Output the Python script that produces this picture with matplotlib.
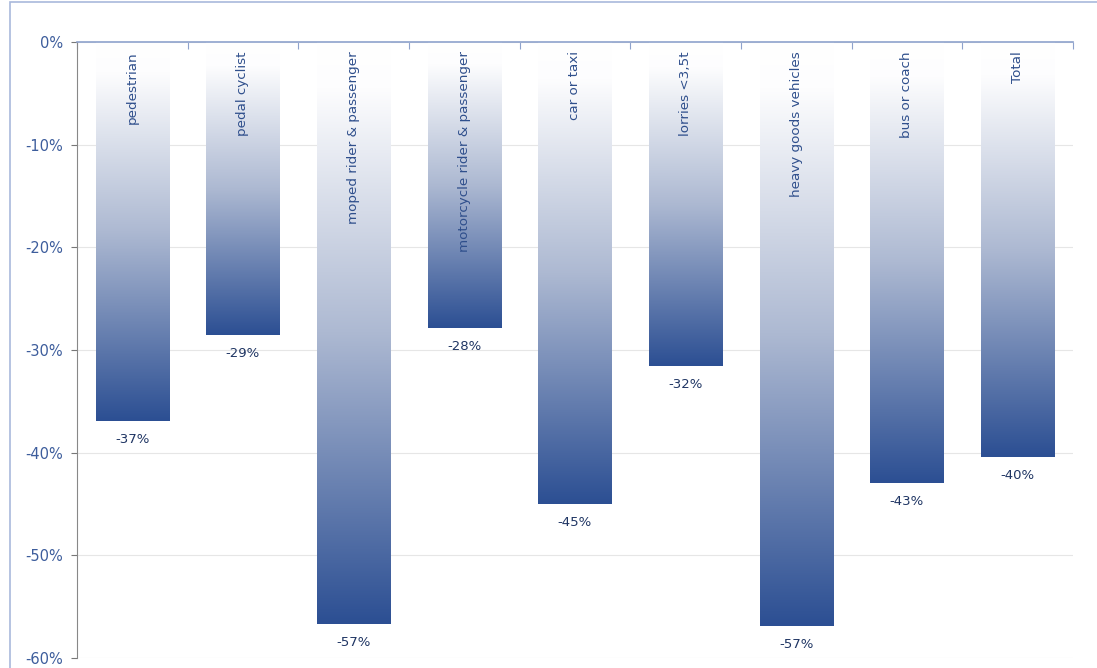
import numpy as np
import matplotlib.pyplot as plt
from matplotlib.colors import LinearSegmentedColormap
from matplotlib.patches import Rectangle

categories = ['pedestrian', 'pedal cyclist', 'moped rider & passenger',
              'motorcycle rider & passenger', 'car or taxi', 'lorries <3,5t',
              'heavy goods vehicles', 'bus or coach', 'Total']
values = [-36.9, -28.5, -56.7, -27.9, -45.0, -31.6, -56.9, -43.0, -40.4]
value_labels = ['-37%', '-29%', '-57%', '-28%', '-45%', '-32%', '-57%', '-43%', '-40%']
yticks = [0, -10, -20, -30, -40, -50, -60]

text_blue = '#2f4f8c'
tick_blue = '#3d5d9c'

cmap = LinearSegmentedColormap.from_list(
    'bar', [(0.0, '#ffffff'), (0.08, '#fdfdfe'), (0.5, '#adb9d2'), (1.0, '#2c4f93')])
grad = cmap(np.linspace(0, 1, 256))[:, None, :]

fig = plt.figure(figsize=(10.97, 6.68), dpi=100)
ax = fig.add_axes([0.0702, 0.015, 0.9078, 0.922])

# frame of the original chart area
fig.patches.append(Rectangle((10 / 1097, -0.1), 1.2, 1 - 2 / 668 + 0.1,
                             transform=fig.transFigure, fill=False,
                             edgecolor='#a9b9dc', linewidth=1.2))

n = len(categories)
width = 0.66
for i, (cat, v, lab) in enumerate(zip(categories, values, value_labels)):
    x0 = i + 0.5 - width / 2
    ax.imshow(grad, extent=[x0, x0 + width, v, 0], aspect='auto',
              interpolation='bilinear', zorder=2)
    ax.text(i + 0.5, -0.9, cat, rotation=90, ha='center', va='top',
            fontsize=9.7, color=text_blue, zorder=3)
    ax.text(i + 0.5, v - 1.8, lab, ha='center', va='center',
            fontsize=9.5, color='#1f3563', zorder=3)

ax.set_xlim(0, n)
ax.set_ylim(-60, 0)
ax.set_yticks(yticks)
ax.set_yticklabels([f'{t}%' for t in yticks], fontsize=10.5, color=tick_blue)
ax.set_xticks(np.arange(0, n + 1))
ax.set_xticklabels([])
ax.tick_params(axis='x', direction='in', length=5, color='#8ea2cc',
               top=True, bottom=False)
ax.tick_params(axis='y', direction='out', length=4, color='#777777', pad=6)
ax.grid(axis='y', color='#e6e6e6', linewidth=0.8, zorder=0)
ax.set_axisbelow(True)

for s in ['right', 'bottom']:
    ax.spines[s].set_visible(False)
ax.spines['top'].set_color('#8ea2cc')
ax.spines['top'].set_linewidth(1.2)
ax.spines['left'].set_color('#888888')

plt.savefig('out.png', dpi=100)
